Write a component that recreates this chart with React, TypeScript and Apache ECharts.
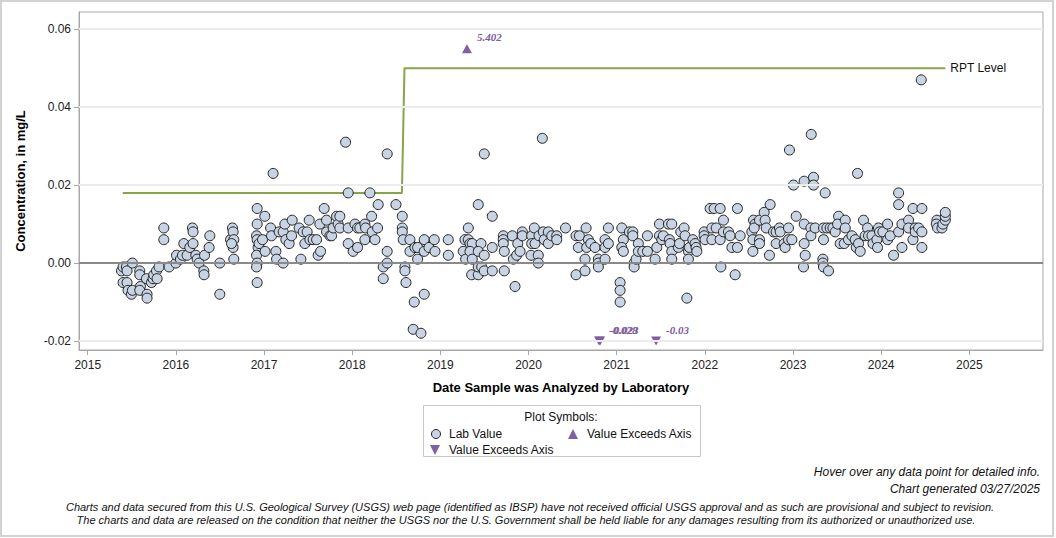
import React, { useEffect, useRef } from "react";
import * as echarts from "echarts";

// Axis tick positions
const yearTicks = [2015, 2016, 2017, 2018, 2019, 2020, 2021, 2022, 2023, 2024, 2025];
const concTicks = [-0.02, 0, 0.02, 0.04, 0.06];

// Lab values: [decimal year analyzed, concentration in mg/L]
const lab2015: [number, number][] = [
  [2015.383, -0.002], [2015.401, -0.001], [2015.439, -0.001], [2015.446, -0.002], [2015.507, 0],
  [2015.401, -0.005], [2015.446, -0.005], [2015.457, -0.007], [2015.496, -0.008], [2015.507, -0.007],
  [2015.59, -0.002], [2015.59, -0.003], [2015.598, -0.006], [2015.59, -0.007], [2015.673, -0.008],
  [2015.673, -0.009], [2015.666, -0.004], [2015.723, -0.005], [2015.741, -0.004], [2015.749, -0.003],
  [2015.78, -0.002], [2015.787, -0.004], [2015.809, -0.001], [2015.863, 0.009], [2015.863, 0.006],
  [2015.923, -0.001],
];
const lab2016: [number, number][] = [
  [2016.0, 0], [2016.007, 0.002], [2016.052, 0.001], [2016.075, 0.002], [2016.09, 0.005],
  [2016.127, 0.002], [2016.158, 0.004], [2016.188, 0.009], [2016.195, 0.008], [2016.195, 0.005],
  [2016.226, 0.002], [2016.241, 0.001], [2016.263, 0], [2016.317, -0.002], [2016.32, -0.003],
  [2016.325, 0.002], [2016.377, 0.004], [2016.385, 0.007], [2016.498, 0], [2016.498, -0.008],
  [2016.62, 0.006], [2016.642, 0.009], [2016.649, 0.008], [2016.657, 0.006], [2016.649, 0.004],
  [2016.657, 0.001], [2016.631, 0.005], [2016.922, 0.014], [2016.922, 0.01], [2016.915, 0.007],
  [2016.922, 0.006], [2016.933, 0.004], [2016.915, 0.002], [2016.922, 0], [2016.915, -0.001],
  [2016.922, -0.005], [2016.944, 0.005], [2016.983, 0.006],
];
const lab2017: [number, number][] = [
  [2017.009, 0.012], [2017.012, 0.003], [2017.074, 0.009], [2017.085, 0.007], [2017.103, 0.023],
  [2017.134, 0.003], [2017.142, 0.001], [2017.171, 0.008], [2017.217, 0.008], [2017.217, 0],
  [2017.236, 0.01], [2017.247, 0.006], [2017.285, 0.005], [2017.312, 0.007], [2017.319, 0.011],
  [2017.398, 0.009], [2017.418, 0.001], [2017.444, 0.008], [2017.463, 0.005], [2017.489, 0.008],
  [2017.512, 0.011], [2017.52, 0.006], [2017.557, 0.006], [2017.596, 0.006], [2017.614, 0.002],
  [2017.633, 0.01], [2017.641, 0.003], [2017.682, 0.014], [2017.709, 0.011], [2017.709, 0.008],
  [2017.747, 0.007], [2017.766, 0.007], [2017.784, 0.009], [2017.823, 0.012], [2017.841, 0.01],
  [2017.86, 0.012], [2017.86, 0.009], [2017.925, 0.031], [2017.955, 0.018], [2017.955, 0.009],
  [2017.955, 0.005],
];
const lab2018: [number, number][] = [
  [2018.011, 0.003], [2018.031, 0.01], [2018.061, 0.009], [2018.061, 0.004], [2018.087, 0.009],
  [2018.144, 0.01], [2018.152, 0.009], [2018.144, 0.006], [2018.201, 0.018], [2018.22, 0.012],
  [2018.227, 0.008], [2018.258, 0.006], [2018.288, 0.009], [2018.295, 0.015], [2018.352, -0.001],
  [2018.352, -0.004], [2018.397, 0.028], [2018.397, 0.003], [2018.397, 0], [2018.496, 0.015],
  [2018.568, 0.012], [2018.568, 0.009], [2018.568, 0.008], [2018.579, 0.006], [2018.598, -0.001],
  [2018.598, -0.002], [2018.61, -0.005], [2018.655, 0.006], [2018.655, 0.003], [2018.692, -0.017],
  [2018.704, -0.01], [2018.712, 0.004], [2018.742, 0.004], [2018.742, 0.001], [2018.78, -0.018],
  [2018.817, 0.006], [2018.817, 0.003], [2018.817, -0.008], [2018.871, 0.004], [2018.931, 0.006],
  [2018.939, 0.003],
];
const lab2019: [number, number][] = [
  [2019.09, 0.006], [2019.09, 0.002], [2019.26, 0.003], [2019.279, 0.006], [2019.287, 0.001],
  [2019.317, 0.009], [2019.317, 0.006], [2019.336, 0.005], [2019.362, 0.005], [2019.336, 0.003],
  [2019.362, 0.001], [2019.355, -0.003], [2019.43, -0.003], [2019.43, 0.015], [2019.461, 0.005],
  [2019.43, 0.003], [2019.43, -0.001], [2019.469, -0.001], [2019.498, 0.028], [2019.498, 0.002],
  [2019.498, -0.002], [2019.589, 0.012], [2019.589, 0.004], [2019.589, -0.002], [2019.714, 0.007],
  [2019.714, 0.006], [2019.714, 0.005], [2019.725, 0.003], [2019.725, -0.002], [2019.816, 0.007],
  [2019.828, 0.001], [2019.847, -0.006], [2019.866, 0.002], [2019.878, 0.005], [2019.904, 0.003],
  [2019.93, 0.008], [2019.93, 0.007],
];
const lab2020: [number, number][] = [
  [2020.036, 0.007], [2020.036, 0.005], [2020.028, 0.002], [2020.066, 0.009], [2020.074, 0.005],
  [2020.111, 0.002], [2020.111, 0], [2020.119, 0.007], [2020.157, 0.032], [2020.168, 0.008],
  [2020.179, 0.006], [2020.225, 0.008], [2020.225, 0.005], [2020.263, 0.007], [2020.32, 0.007],
  [2020.32, 0.006], [2020.42, 0.009], [2020.539, 0.007], [2020.565, 0.004], [2020.577, 0.007],
  [2020.539, -0.003], [2020.641, -0.002], [2020.641, 0.001], [2020.653, 0.009], [2020.679, 0.006],
  [2020.66, 0.004], [2020.706, 0.005], [2020.755, 0.004], [2020.792, 0.001], [2020.792, 0],
  [2020.792, -0.001], [2020.868, 0.006], [2020.868, 0.004], [2020.868, 0.001], [2020.906, 0.009],
  [2020.906, 0.005],
];
const lab2021: [number, number][] = [
  [2021.039, -0.005], [2021.039, -0.007], [2021.039, -0.01], [2021.058, 0.009], [2021.076, 0.006],
  [2021.058, 0.004], [2021.076, 0.003], [2021.144, 0.008], [2021.183, 0.008], [2021.183, 0.007],
  [2021.198, 0], [2021.198, -0.001], [2021.22, 0.001], [2021.246, 0.005], [2021.246, 0.003],
  [2021.296, 0.003], [2021.349, 0.007], [2021.349, 0.003], [2021.436, 0.001], [2021.455, 0.004],
  [2021.485, 0.01], [2021.485, 0.007], [2021.512, 0.006], [2021.53, 0.007], [2021.587, 0.01],
  [2021.625, 0.01], [2021.598, 0.006], [2021.606, 0.005], [2021.625, 0.003], [2021.625, 0.001],
  [2021.7, 0.004], [2021.712, 0.005], [2021.727, 0.008], [2021.765, 0.009], [2021.776, 0.007],
  [2021.796, -0.009], [2021.814, 0.003], [2021.814, 0.001], [2021.825, 0.004], [2021.864, 0.006],
  [2021.89, 0.005], [2021.901, 0.004], [2021.909, 0.003], [2021.992, 0.008], [2021.992, 0.007],
];
const lab2022: [number, number][] = [
  [2022.003, 0.006], [2022.06, 0.014], [2022.106, 0.014], [2022.174, 0.014], [2022.08, 0.009],
  [2022.08, 0.006], [2022.129, 0.009], [2022.174, 0.006], [2022.182, -0.001], [2022.211, 0.011],
  [2022.211, 0.008], [2022.268, 0.008], [2022.287, 0.007], [2022.307, 0.004], [2022.344, -0.003],
  [2022.37, 0.014], [2022.37, 0.004], [2022.401, 0.007], [2022.533, 0.008], [2022.545, 0.006],
  [2022.545, 0.003], [2022.552, 0.011], [2022.571, 0.01], [2022.56, 0.009], [2022.62, 0.011],
  [2022.62, 0.006], [2022.62, 0.005], [2022.673, 0.013], [2022.684, 0.011], [2022.696, 0.009],
  [2022.733, 0.002], [2022.741, 0.015], [2022.779, 0.008], [2022.809, 0.008], [2022.809, 0.005],
  [2022.847, 0.009], [2022.855, 0.008], [2022.9, 0.005], [2022.911, 0.004], [2022.949, 0.009],
  [2022.96, 0.029], [2022.949, 0.006], [2022.987, 0.006],
];
const lab2023: [number, number][] = [
  [2023.006, 0.02], [2023.036, 0.012], [2023.127, 0.021], [2023.127, 0.01], [2023.127, 0.005],
  [2023.139, 0.002], [2023.119, -0.001], [2023.203, 0.009], [2023.203, 0.007], [2023.207, 0.033],
  [2023.233, 0.022], [2023.233, 0.02], [2023.252, 0.009], [2023.339, 0.001], [2023.339, 0],
  [2023.346, -0.001], [2023.403, -0.002], [2023.346, 0.009], [2023.346, 0.006], [2023.365, 0.018],
  [2023.384, 0.009], [2023.422, 0.009], [2023.453, 0.009], [2023.479, 0.008], [2023.517, 0.012],
  [2023.506, 0.01], [2023.536, 0.005], [2023.593, 0.011], [2023.593, 0.009], [2023.582, 0.005],
  [2023.63, 0.006], [2023.669, 0.007], [2023.706, 0.006], [2023.718, 0.004], [2023.732, 0.023],
  [2023.744, 0.005], [2023.763, 0.003], [2023.8, 0.011], [2023.819, 0.007], [2023.846, 0.009],
  [2023.857, 0.007], [2023.896, 0.007], [2023.907, 0.005], [2023.952, 0.006], [2023.959, 0.004],
  [2023.97, 0.009], [2023.982, 0.008],
];
const lab2024: [number, number][] = [
  [2024.02, 0.008], [2024.073, 0.01], [2024.073, 0.006], [2024.103, 0.007], [2024.141, 0.002],
  [2024.198, 0.018], [2024.198, 0.015], [2024.198, 0.008], [2024.236, 0.01], [2024.236, 0.004],
  [2024.311, 0.011], [2024.311, 0.009], [2024.361, 0.014], [2024.361, 0.006], [2024.387, 0.009],
  [2024.387, 0.008], [2024.425, 0.009], [2024.455, 0.047], [2024.462, 0.014], [2024.462, 0.008],
  [2024.462, 0.004], [2024.633, 0.011], [2024.625, 0.01], [2024.64, 0.009], [2024.69, 0.009],
  [2024.701, 0.01], [2024.728, 0.011], [2024.728, 0.012], [2024.728, 0.013],
];

// Reporting level step line
const rptLevel: [number, number][] = [
  [2015.397, 0.018], [2018.564, 0.018], [2018.593, 0.05], [2024.728, 0.05],
];

// Results beyond the plotted range (actual reported values)
const aboveAxis: [number, number][] = [[2019.302, 5.402]];
const belowAxis: [number, number][] = [[2020.8, -0.028], [2020.812, -0.023], [2021.447, -0.03]];

// Where off-scale results are pinned on the chart
const PIN_HIGH = 0.055;
const PIN_LOW = -0.02;

const X_MIN = 2014.901;
const X_MAX = 2025.836;
const Y_MIN = -0.0223;
const Y_MAX = 0.0644;

const SANS = "'Liberation Sans', Arial, Helvetica, sans-serif";
const SERIF = "'Liberation Serif', 'Times New Roman', serif";
const PURPLE = "#7f60a3";
const DOT_FILL = "#c8d4e4";

const labValues = [
  ...lab2015, ...lab2016, ...lab2017, ...lab2018, ...lab2019,
  ...lab2020, ...lab2021, ...lab2022, ...lab2023, ...lab2024,
];

export default function App() {
  const ref = useRef<HTMLDivElement>(null);

  useEffect(() => {
    document.body.style.margin = "0";
    if (!ref.current) return;
    const chart = echarts.init(ref.current, undefined, { renderer: "svg" });

    const exceedLabel = {
      show: true,
      position: [15, -7],
      align: "left",
      verticalAlign: "middle",
      color: "#7b5b9f",
      fontFamily: SERIF,
      fontStyle: "italic",
      fontWeight: "bold",
      fontSize: 11,
      formatter: (p: any) => String(p.data.actual),
    };

    const option: any = {
      animation: false,
      textStyle: { fontFamily: SANS },
      grid: {
        left: 79,
        top: 12,
        right: 13,
        bottom: 188,
        show: true,
        borderColor: "#a8a8a8",
        borderWidth: 1,
        backgroundColor: "transparent",
      },
      xAxis: {
        type: "value",
        min: X_MIN,
        max: X_MAX,
        name: "Date Sample was Analyzed by Laboratory",
        nameLocation: "middle",
        nameGap: 31,
        nameTextStyle: { fontWeight: "bold", fontSize: 13, color: "#000", fontFamily: SANS },
        axisLine: { show: true, onZero: false, lineStyle: { color: "#a8a8a8" } },
        axisTick: { show: true, length: 5, customValues: yearTicks, lineStyle: { color: "#a8a8a8" } },
        axisLabel: {
          customValues: yearTicks,
          formatter: (v: number) => String(Math.round(v)),
          fontSize: 12,
          color: "#222",
          margin: 9,
        },
        splitLine: { show: false },
      },
      yAxis: {
        type: "value",
        min: Y_MIN,
        max: Y_MAX,
        name: "Concentration, in mg/L",
        nameLocation: "middle",
        nameGap: 52,
        nameRotate: 90,
        nameTextStyle: { fontWeight: "bold", fontSize: 13, color: "#000", fontFamily: SANS },
        axisLine: { show: true, onZero: false, lineStyle: { color: "#a8a8a8" } },
        axisTick: { show: true, length: 5, customValues: concTicks, lineStyle: { color: "#a8a8a8" } },
        axisLabel: {
          customValues: concTicks,
          formatter: (v: number) => v.toFixed(2),
          fontSize: 12,
          color: "#222",
          margin: 8,
        },
        splitLine: { show: false },
      },
      series: [
        {
          // reference grid lines and the zero line
          type: "scatter",
          data: [],
          z: 1,
          silent: true,
          markLine: {
            silent: true,
            symbol: ["none", "none"],
            label: { show: false },
            data: concTicks.map((v) => ({
              yAxis: v,
              lineStyle: v === 0
                ? { color: "#8a8a8a", width: 2, type: "solid" }
                : { color: "#ececec", width: 2, type: "solid" },
            })),
          },
        },
        {
          name: "RPT Level",
          type: "line",
          data: rptLevel,
          z: 2,
          symbol: "none",
          lineStyle: { color: "#88a44a", width: 2 },
          endLabel: {
            show: true,
            formatter: "RPT Level",
            distance: 5,
            color: "#111",
            fontSize: 12,
            fontFamily: SANS,
          },
        },
        {
          name: "Lab Value",
          type: "scatter",
          data: labValues,
          z: 3,
          symbol: "circle",
          symbolSize: 10,
          itemStyle: { color: DOT_FILL, borderColor: "#222", borderWidth: 1, opacity: 1 },
        },
        {
          name: "Value Exceeds Axis (high)",
          type: "scatter",
          z: 4,
          data: aboveAxis.map(([x, v]) => ({ value: [x, Math.min(v, PIN_HIGH)], actual: v })),
          symbol: "triangle",
          symbolSize: [10, 9],
          itemStyle: { color: PURPLE, opacity: 1 },
          label: exceedLabel,
        },
        {
          name: "Value Exceeds Axis (low)",
          type: "scatter",
          z: 4,
          data: belowAxis.map(([x, v]) => ({ value: [x, Math.max(v, PIN_LOW)], actual: v })),
          symbol: "triangle",
          symbolRotate: 180,
          symbolSize: [10, 9],
          itemStyle: { color: PURPLE, opacity: 1 },
          label: exceedLabel,
        },
      ],
      graphic: [
        // outer frame
        {
          type: "rect",
          silent: true,
          z: 0,
          shape: { x: 1, y: 1, width: 1052, height: 535 },
          style: { fill: "none", stroke: "#d2d2d2", lineWidth: 2 },
        },
        // legend box
        {
          type: "rect",
          shape: { x: 423.5, y: 405.5, width: 277, height: 51 },
          style: { fill: "#fff", stroke: "#c8c8c8", lineWidth: 1 },
        },
        {
          type: "text",
          x: 561,
          y: 417,
          style: { text: "Plot Symbols:", fill: "#111", font: `12px ${SANS}`, textAlign: "center", textVerticalAlign: "middle" },
        },
        {
          type: "circle",
          shape: { cx: 436, cy: 434, r: 4.5 },
          style: { fill: DOT_FILL, stroke: "#222", lineWidth: 1 },
        },
        {
          type: "text",
          x: 449,
          y: 434,
          style: { text: "Lab Value", fill: "#111", font: `12px ${SANS}`, textAlign: "left", textVerticalAlign: "middle" },
        },
        {
          type: "polygon",
          shape: { points: [[568, 439], [578, 439], [573, 429]] },
          style: { fill: PURPLE },
        },
        {
          type: "text",
          x: 587,
          y: 434,
          style: { text: "Value Exceeds Axis", fill: "#111", font: `12px ${SANS}`, textAlign: "left", textVerticalAlign: "middle" },
        },
        {
          type: "polygon",
          shape: { points: [[430, 445], [440, 445], [435, 455]] },
          style: { fill: PURPLE },
        },
        {
          type: "text",
          x: 449,
          y: 450,
          style: { text: "Value Exceeds Axis", fill: "#111", font: `12px ${SANS}`, textAlign: "left", textVerticalAlign: "middle" },
        },
        // footer notes
        {
          type: "text",
          x: 1040,
          y: 472,
          style: { text: "Hover over any data point for detailed info.", fill: "#111", font: `italic 12px ${SANS}`, textAlign: "right", textVerticalAlign: "middle" },
        },
        {
          type: "text",
          x: 1040,
          y: 489,
          style: { text: "Chart generated 03/27/2025", fill: "#111", font: `italic 12px ${SANS}`, textAlign: "right", textVerticalAlign: "middle" },
        },
        {
          type: "text",
          x: 530,
          y: 507,
          style: {
            text: "Charts and data secured from this U.S. Geological Survey (USGS) web page (identified as IBSP) have not received official USGS approval and as such are provisional and subject to revision.",
            fill: "#111",
            font: `italic 11px ${SANS}`,
            textAlign: "center",
            textVerticalAlign: "middle",
          },
        },
        {
          type: "text",
          x: 526,
          y: 520,
          style: {
            text: "The charts and data are released on the condition that neither the USGS nor the U.S. Government shall be held liable for any damages resulting from its authorized or unauthorized use.",
            fill: "#111",
            font: `italic 11px ${SANS}`,
            textAlign: "center",
            textVerticalAlign: "middle",
          },
        },
      ],
    };

    chart.setOption(option);
    return () => chart.dispose();
  }, []);

  return <div ref={ref} style={{ width: 1056, height: 538, background: "#fff" }} />;
}
